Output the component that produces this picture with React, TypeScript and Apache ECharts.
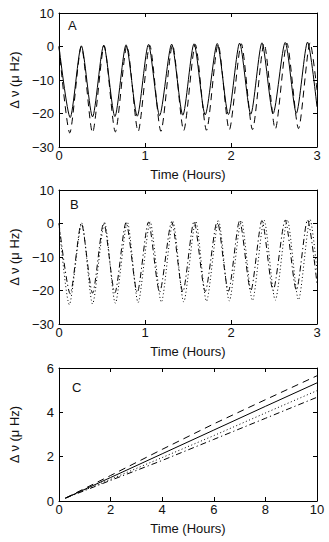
import React, { useEffect, useRef } from "react";
import * as echarts from "echarts";

const FONT = "'Liberation Sans', Arial, Helvetica, sans-serif";

// Panel A: solid and dashed oscillations [time (h), Δν (μHz)]
const aSolid: [number, number][] = [
  [0, 0], [0.13, -21.2], [0.26, 0.2], [0.39, -21.0], [0.52, 0.4], [0.65, -20.9],
  [0.78, 0.5], [0.91, -20.8], [1.04, 0.6], [1.17, -20.6], [1.31, 0.7], [1.44, -20.5],
  [1.57, 0.8], [1.70, -20.4], [1.84, 0.9], [1.97, -20.3], [2.10, 1.0], [2.23, -20.2],
  [2.36, 1.1], [2.49, -20.0], [2.63, 1.2], [2.76, -19.9], [2.89, 1.3], [3.0, -18],
];
const aDashed: [number, number][] = [
  [0, 0], [0.125, -25.8], [0.26, 0.0], [0.39, -25.7], [0.525, 0.2], [0.655, -25.5],
  [0.79, 0.3], [0.92, -25.4], [1.055, 0.4], [1.185, -25.3], [1.32, 0.5], [1.45, -25.1],
  [1.585, 0.6], [1.715, -25.0], [1.85, 0.7], [1.98, -24.9], [2.12, 0.8], [2.25, -24.8],
  [2.385, 0.9], [2.515, -24.7], [2.65, 1.0], [2.785, -24.5], [2.92, 1.1], [3.0, -13],
];

// Panel B: dash-dot and dotted oscillations
const bDashDot: [number, number][] = [
  [0, 0], [0.13, -21.0], [0.26, 0.1], [0.39, -20.8], [0.52, 0.2], [0.65, -20.7],
  [0.78, 0.3], [0.91, -20.6], [1.04, 0.4], [1.17, -20.5], [1.31, 0.5], [1.44, -20.4],
  [1.57, 0.6], [1.70, -20.3], [1.84, 0.7], [1.97, -20.2], [2.10, 0.8], [2.23, -20.1],
  [2.36, 0.9], [2.49, -20.0], [2.63, 1.0], [2.76, -19.9], [2.89, 1.1], [3.0, -18],
];
const bDotted: [number, number][] = [
  [0, 0], [0.12, -24.2], [0.265, 0.1], [0.39, -24.0], [0.53, 0.3], [0.655, -23.8],
  [0.795, 0.4], [0.92, -23.6], [1.06, 0.5], [1.19, -23.5], [1.325, 0.6], [1.45, -23.4],
  [1.59, 0.7], [1.715, -23.2], [1.855, 0.8], [1.98, -23.1], [2.12, 0.9], [2.25, -23.0],
  [2.385, 1.0], [2.515, -22.9], [2.655, 1.1], [2.785, -22.8], [2.92, 1.2], [3.0, -14],
];

// Panel C: drift lines
const cSolid: [number, number][] = [[0.25, 0.13], [2, 1.06], [4, 2.13], [6, 3.2], [8, 4.27], [10, 5.33]];
const cDashed: [number, number][] = [[0.25, 0.13], [2, 1.15], [4, 2.33], [6, 3.48], [8, 4.57], [10, 5.65]];
const cDotted: [number, number][] = [[0.25, 0.13], [2, 0.98], [4, 1.96], [6, 2.95], [8, 3.97], [10, 4.98]];
const cDashDot: [number, number][] = [[0.25, 0.13], [2, 0.93], [4, 1.83], [6, 2.78], [8, 3.73], [10, 4.68]];

const xTitle = "Time (Hours)";
const yTitle = "Δ ν (μ Hz)";
const panelLabels = ["A", "B", "C"];

const DASHED = [7, 5];
const DOTTED = [1, 2.5];
const DASHDOT = [6, 3, 1.2, 3];

const lineCol = "#000";
const txt = { fontFamily: FONT, fontSize: 13, color: "#111", fontWeight: "normal" as const };

function xAxesFor(gridIndex: number, min: number, max: number, interval: number) {
  const base = {
    type: "value" as const,
    gridIndex,
    min,
    max,
    interval,
    splitLine: { show: false },
    axisLine: { show: true, onZero: false, lineStyle: { color: lineCol, width: 1 } },
    axisTick: { show: true, inside: true, length: 4, lineStyle: { color: lineCol, width: 1 } },
  };
  return [
    {
      ...base,
      position: "bottom",
      name: xTitle,
      nameLocation: "middle",
      nameGap: 21,
      nameTextStyle: { ...txt },
      axisLabel: { margin: 2, ...txt },
    },
    { ...base, position: "top", axisLabel: { show: false } },
  ];
}

function yAxesFor(gridIndex: number, min: number, max: number, interval: number) {
  const base = {
    type: "value" as const,
    gridIndex,
    min,
    max,
    interval,
    splitLine: { show: false },
    axisLine: { show: true, onZero: false, lineStyle: { color: lineCol, width: 1 } },
    axisTick: { show: true, inside: true, length: 4, lineStyle: { color: lineCol, width: 1 } },
  };
  return [
    {
      ...base,
      position: "left",
      name: yTitle,
      nameLocation: "middle",
      nameGap: 38,
      nameRotate: 90,
      nameTextStyle: { ...txt },
      axisLabel: {
        margin: 5,
        ...txt,
        formatter: (v: number) => String(v).replace("-", "\u2212"),
      },
    },
    { ...base, position: "right", axisLabel: { show: false } },
  ];
}

function line(data: [number, number][], idx: number, type: any, smooth: number | boolean) {
  return {
    type: "line",
    data,
    xAxisIndex: idx,
    yAxisIndex: idx,
    showSymbol: false,
    symbol: "none",
    smooth,
    lineStyle: { color: lineCol, width: 1, type },
    silent: true,
  };
}

export default function App() {
  const ref = useRef<HTMLDivElement>(null);
  useEffect(() => {
    if (!ref.current) return;
    const chart = echarts.init(ref.current, undefined, { renderer: "svg" });
    const labelPos = [
      [68, 19],
      [70, 198],
      [72, 381],
    ];
    chart.setOption({
      animation: false,
      backgroundColor: "#fff",
      grid: [
        { left: 56, top: 13, width: 261, height: 134 },
        { left: 56, top: 190, width: 261, height: 134 },
        { left: 56, top: 368, width: 261, height: 133 },
      ],
      xAxis: [...xAxesFor(0, 0, 3, 1), ...xAxesFor(1, 0, 3, 1), ...xAxesFor(2, 0, 10, 2)],
      yAxis: [...yAxesFor(0, -30, 10, 10), ...yAxesFor(1, -30, 10, 10), ...yAxesFor(2, 0, 6, 2)],
      graphic: panelLabels.map((t, i) => ({
        type: "text",
        left: labelPos[i][0],
        top: labelPos[i][1],
        style: { text: t, fontFamily: FONT, fontSize: 13, fill: "#111", fontWeight: "normal" },
      })),
      series: [
        line(aSolid, 0, "solid", 0.25),
        line(aDashed, 0, DASHED, 0.25),
        line(bDashDot, 2, DASHDOT, 0.25),
        line(bDotted, 2, DOTTED, 0.25),
        line(cSolid, 4, "solid", false),
        line(cDashed, 4, DASHED, false),
        line(cDotted, 4, DOTTED, false),
        line(cDashDot, 4, DASHDOT, false),
      ],
    });
    return () => chart.dispose();
  }, []);
  return (
    <div
      ref={ref}
      style={{ position: "fixed", left: 0, top: 0, width: 329, height: 542, background: "#fff" }}
    />
  );
}
